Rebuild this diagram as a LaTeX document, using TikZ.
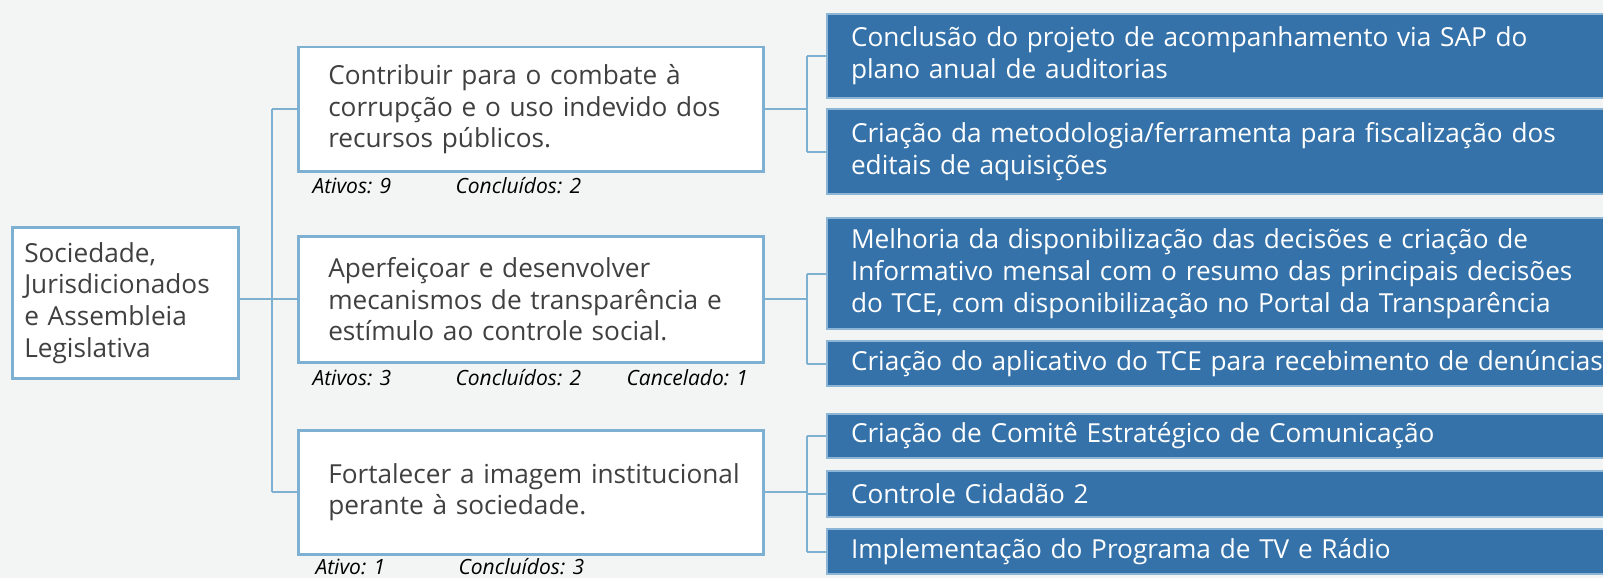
\documentclass[tikz,border=0pt]{standalone}
\usepackage{fontspec}
\setmainfont{Open Sans}
\usetikzlibrary{calc}
\definecolor{bgcol}{HTML}{F3F4F4}
\definecolor{edgecol}{HTML}{7EB0D1}
\definecolor{actcol}{HTML}{3572A9}
\definecolor{actedge}{HTML}{8DB6D6}
\definecolor{txtcol}{HTML}{404040}
\begin{document}
\begin{tikzpicture}[x=1pt, y=-1pt,
  goal/.style = {draw=edgecol, line width=2.5pt, fill=white, text=txtcol, anchor=north west,
                 inner xsep=30pt, inner ysep=0pt, align=left, minimum width=465pt,
                 text width=405pt, font=\fontsize{26.2}{31.7}\selectfont},
  action/.style = {draw=actedge, line width=2pt, fill=actcol, text=white, anchor=north west,
                 inner xsep=24pt, inner ysep=0pt, align=left, minimum width=830pt,
                 text width=782pt, font=\fontsize{26.2}{31.7}\selectfont},
  stat/.style = {anchor=base west, font=\fontsize{21}{24}\selectfont\itshape, text=black},
  conn/.style = {draw=edgecol, line width=2pt}]
\fill[bgcol] (0,0) rectangle (1603,578);
\useasboundingbox (0,0) rectangle (1603,578);

% raiz
\node[goal, inner xsep=12pt, minimum width=226pt, text width=202pt, minimum height=151pt]
  (root) at (11,226) {Sociedade,\\Jurisdicionados\\e Assembleia\\Legislativa};

% objetivos
\node[goal, minimum height=124pt] (obj1) at (297,46)
  {Contribuir para o combate à\\corrupção e o uso indevido dos\\recursos públicos.};
\node[goal, minimum height=126pt] (obj2) at (297,235)
  {Aperfeiçoar e desenvolver\\mecanismos de transparência e\\estímulo ao controle social.};
\node[goal, minimum height=124pt] (obj3) at (297,429)
  {\mbox{Fortalecer a imagem institucional}\\perante à sociedade.};

% contagens
\node[stat] (ativ1) at (309,193) {Ativos: 9};
\node[stat] (conc1) at (452,193) {Concluídos: 2};
\node[stat] (ativ2) at (309,385) {Ativos: 3};
\node[stat] (conc2) at (452,385) {Concluídos: 2};
\node[stat] (canc2) at (623,385) {Cancelado: 1};
\node[stat] (ativ3) at (312,574) {Ativo: 1};
\node[stat] (conc3) at (455,574) {Concluídos: 3};

% acoes
\node[action, minimum height=84pt] (act1) at (826,13)
  {Conclusão do projeto de acompanhamento via SAP do\\plano anual de auditorias};
\node[action, minimum height=85pt] (act2) at (826,108)
  {Criação da metodologia/ferramenta para fiscalização dos\\editais de aquisições};
\node[action, minimum height=111pt] (act3) at (826,217)
  {Melhoria da disponibilização das decisões e criação de\\Informativo mensal com o resumo das principais decisões\\do TCE, com disponibilização no Portal da Transparência};
\node[action, minimum height=45pt] (act4) at (826,340)
  {Criação do aplicativo do TCE para recebimento de denúncias};
\node[action, minimum height=44pt] (act5) at (826,413)
  {Criação de Comitê Estratégico de Comunicação};
\node[action, minimum height=46pt] (act6) at (826,470)
  {Controle Cidadão 2};
\node[action, minimum height=45pt] (act7) at (826,528)
  {Implementação do Programa de TV e Rádio};

% ligacoes
\coordinate (trunk) at (272,0);
\coordinate (sub) at (807,0);
\draw[conn] (root.east |- obj2.west) -- (obj2.west);
\draw[conn] (trunk |- obj1.west) -- (trunk |- obj3.west);
\foreach \o in {obj1,obj3}
  \draw[conn] (trunk |- \o.west) -- (\o.west);
\draw[conn] (sub |- act1.west) -- (sub |- act2.west);
\draw[conn] (sub |- act3.west) -- (sub |- act4.west);
\draw[conn] (sub |- act5.west) -- (sub |- act7.west);
\draw[conn] (obj1.east) -- (sub |- obj1.east);
\draw[conn] (obj2.east) -- (sub |- obj2.east);
\draw[conn] (obj3.east) -- (sub |- obj3.east);
\foreach \a in {act1,act2,act3,act4,act5,act6,act7}
  \draw[conn] (sub |- \a.west) -- (\a.west);
\end{tikzpicture}
\end{document}
